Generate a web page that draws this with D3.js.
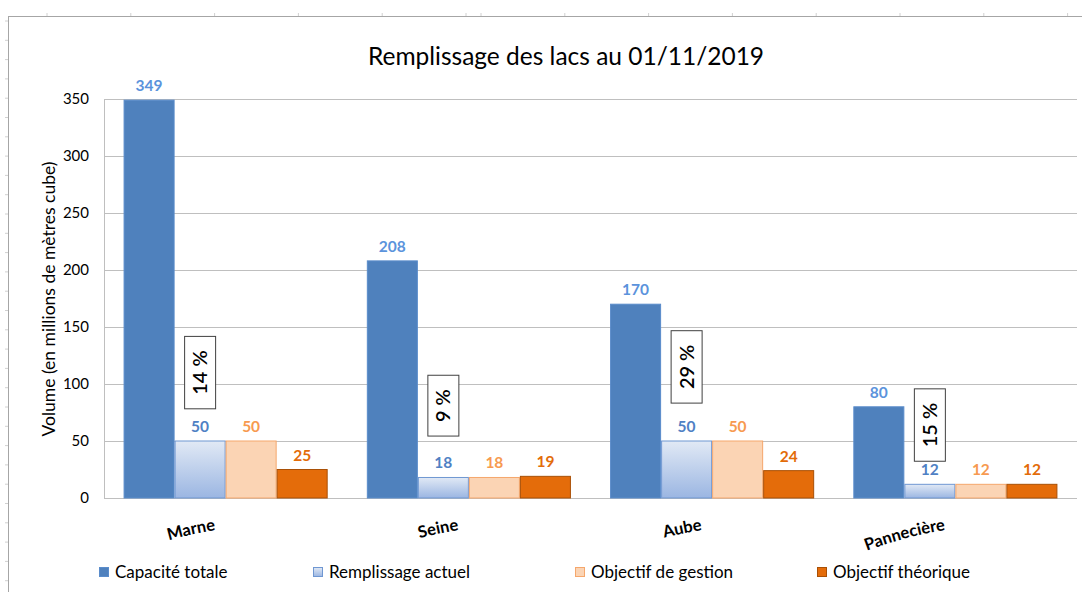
<!DOCTYPE html>
<html>
<head>
<meta charset="utf-8">
<script src="https://cdn.jsdelivr.net/npm/d3@7"></script>
<style>
  body { margin: 0; background: #fff; }
  svg { display: block; font-family: Lato, "Open Sans", sans-serif; }
</style>
</head>
<body>
<div id="chart"></div>
<script>
const categories = ["Marne", "Seine", "Aube", "Pannecière"];
const series = ["Capacité totale", "Remplissage actuel", "Objectif de gestion", "Objectif théorique"];
const capacite = [349, 208, 170, 80];
const remplissage = [50, 18, 50, 12];
const gestion = [50, 18, 50, 12];
const theorique = [25, 19, 24, 12];
const yTicks = [0, 50, 100, 150, 200, 250, 300, 350];
// where the percent boxes sit, in axis units
const pctAnchor = [110, 81, 115, 64];

const values = [capacite, remplissage, gestion, theorique];

let width = 1082, height = 592;
let svg = d3.select("#chart").append("svg")
  .attr("width", width)
  .attr("height", height);

// sheet grid remnants round the chart
let frame = svg.append("g").attr("class", "frame");
let colTicks = d3.range(47, 470, 83.8).concat(d3.range(481, 1080, 83.8));
frame.selectAll("line.ct").data(colTicks).enter().append("line")
  .attr("x1", d => d).attr("x2", d => d).attr("y1", 13).attr("y2", 16)
  .attr("stroke", "#d0d0d0");
frame.selectAll("line.rt").data(d3.range(21, 592, 19.3)).enter().append("line")
  .attr("x1", 5).attr("x2", 8).attr("y1", d => d).attr("y2", d => d)
  .attr("stroke", "#d0d0d0");
frame.append("line").attr("x1", 8).attr("x2", 1082).attr("y1", 16.5).attr("y2", 16.5)
  .attr("stroke", "#a6a6a6");
frame.append("line").attr("x1", 8.5).attr("x2", 8.5).attr("y1", 16).attr("y2", 592)
  .attr("stroke", "#a6a6a6");

let y = d3.scaleLinear().domain([0, 350]).range([498, 99]);
let x0 = d3.scaleBand().domain(categories).range([104, 1077])
  .paddingInner(0.161).paddingOuter(0.0805);
let x1 = d3.scaleBand().domain(series).range([0, x0.bandwidth()]);

let defs = svg.append("defs");
let grad = defs.append("linearGradient").attr("id", "fillGrad")
  .attr("x1", 0).attr("x2", 0).attr("y1", 0).attr("y2", 1);
grad.append("stop").attr("offset", "0%").attr("stop-color", "#e1e9f5");
grad.append("stop").attr("offset", "100%").attr("stop-color", "#9bb6e2");

const fills = ["#4f81bd", "url(#fillGrad)", "#fbd4b4", "#e46c0a"];
const strokes = ["#5a8ccb", "#6f97d2", "#f5a76c", "#a95006"];
const labelColors = ["#5b93dc", "#4f81c4", "#f79a50", "#e36c09"];

// gridlines
svg.append("g").attr("class", "grid")
  .selectAll("line").data(yTicks).enter().append("line")
  .attr("x1", 104).attr("x2", 1077)
  .attr("y1", d => Math.round(y(d)) + 0.5).attr("y2", d => Math.round(y(d)) + 0.5)
  .attr("stroke", "#bfbfbf");
svg.append("line").attr("x1", 104.5).attr("x2", 104.5).attr("y1", y(350)).attr("y2", y(0))
  .attr("stroke", "#bfbfbf");

// y axis
let yAxis = svg.append("g").attr("transform", "translate(104,0)")
  .call(d3.axisLeft(y).tickValues(yTicks).tickSize(0).tickPadding(15));
yAxis.select(".domain").remove();
yAxis.selectAll("text").attr("font-size", 15).attr("fill", "#000")
  .attr("font-family", "Lato, sans-serif");

svg.append("text")
  .attr("transform", "translate(55,299) rotate(-90)")
  .attr("text-anchor", "middle")
  .attr("font-size", 17.5)
  .text("Volume (en millions de mètres cube)");

svg.append("text")
  .attr("x", 566).attr("y", 65)
  .attr("text-anchor", "middle")
  .attr("font-size", 24.5)
  .text("Remplissage des lacs au 01/11/2019");

// bars
let groups = svg.append("g").attr("class", "bars")
  .selectAll("g").data(categories).enter().append("g")
  .attr("transform", d => "translate(" + x0(d) + ",0)");

groups.selectAll("rect")
  .data((c, i) => series.map((s, j) => ({ s: s, j: j, v: values[j][i] })))
  .enter().append("rect")
  .attr("x", d => x1(d.s) + 0.5)
  .attr("y", d => y(d.v))
  .attr("width", x1.bandwidth() - 1)
  .attr("height", d => y(0) - y(d.v))
  .attr("fill", d => fills[d.j])
  .attr("stroke", d => strokes[d.j]);

groups.selectAll("text.val")
  .data((c, i) => series.map((s, j) => ({ s: s, j: j, v: values[j][i] })))
  .enter().append("text")
  .attr("class", "val")
  .attr("x", d => x1(d.s) + x1.bandwidth() / 2)
  .attr("y", d => y(d.v) - 9)
  .attr("text-anchor", "middle")
  .attr("font-size", 15.5)
  .attr("font-weight", "bold")
  .attr("fill", d => labelColors[d.j])
  .text(d => d.v);

// percent boxes
groups.each(function(c, i) {
  let g = d3.select(this);
  let cx = x1(series[1]) + x1.bandwidth() / 2;
  let cy = y(pctAnchor[i]);
  let pct = Math.round(remplissage[i] / capacite[i] * 100) + " %";
  let box = g.append("rect").attr("fill", "#fff").attr("stroke", "#404040");
  let t = g.append("text")
    .attr("transform", "translate(" + (cx + 7) + "," + cy + ") rotate(-90)")
    .attr("text-anchor", "middle")
    .attr("font-size", 20)
    .attr("font-weight", 600)
    .text(pct);
  let len = t.node().getComputedTextLength();
  let h = len + 28;
  box.attr("x", cx - 15.5).attr("y", cy - h / 2).attr("width", 31).attr("height", h);
});

// category labels, bent along a gentle arc
const R = 400, endAngle = -9 * Math.PI / 180, arcLen = 150;
function arcPath(ex, ey) {
  let cx = ex - R * Math.sin(endAngle), cy = ey + R * Math.cos(endAngle);
  let a0 = endAngle - arcLen / R;
  let sx = cx + R * Math.sin(a0), sy = cy - R * Math.cos(a0);
  return "M" + sx + "," + sy + " A" + R + "," + R + " 0 0 1 " + ex + "," + ey;
}
categories.forEach((c, i) => {
  defs.append("path").attr("id", "catArc" + i)
    .attr("d", arcPath(x0(c) + x0.bandwidth() / 2 - 10, 530));
});
svg.append("g").selectAll("text").data(categories).enter().append("text")
  .attr("font-size", 16.5)
  .attr("font-weight", "bold")
  .attr("text-anchor", "end")
  .append("textPath")
  .attr("href", (d, i) => "#catArc" + i)
  .attr("startOffset", "100%")
  .text(d => d);

// legend
const legendX = [99, 313, 575, 817];
let legend = svg.append("g").selectAll("g").data(series).enter().append("g")
  .attr("transform", (d, i) => "translate(" + legendX[i] + ",567)");
legend.append("rect")
  .attr("x", 0.5).attr("y", 0.5).attr("width", 9).attr("height", 9)
  .attr("fill", (d, i) => fills[i])
  .attr("stroke", (d, i) => strokes[i]);
legend.append("text")
  .attr("x", 16).attr("y", 10.5)
  .attr("font-size", 17)
  .text(d => d);
</script>
</body>
</html>
